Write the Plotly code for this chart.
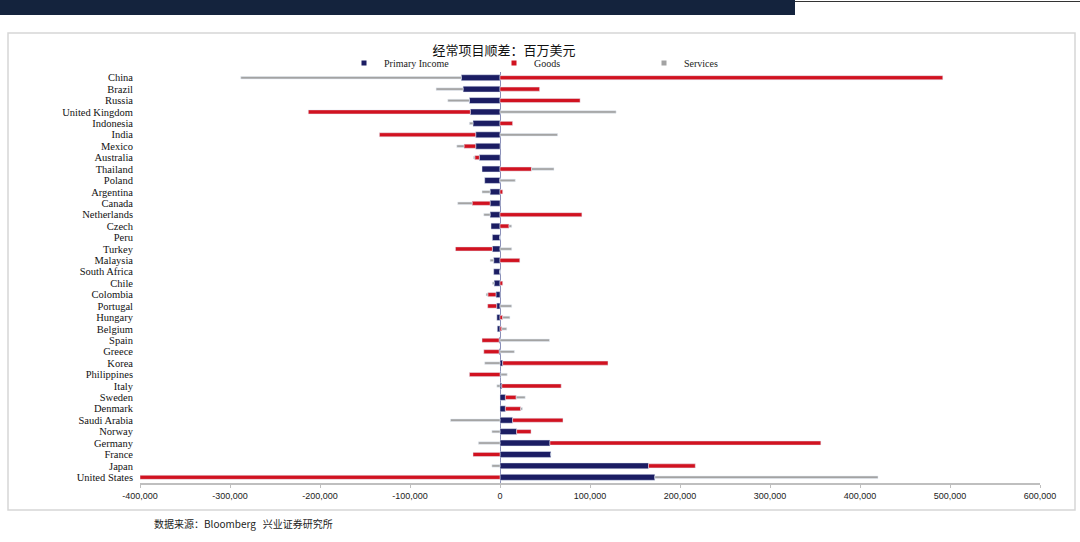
import plotly.graph_objects as go

countries = ["China", "Brazil", "Russia", "United Kingdom", "Indonesia", "India", "Mexico",
             "Australia", "Thailand", "Poland", "Argentina", "Canada", "Netherlands", "Czech",
             "Peru", "Turkey", "Malaysia", "South Africa", "Chile", "Colombia", "Portugal",
             "Hungary", "Belgium", "Spain", "Greece", "Korea", "Philippines", "Italy", "Sweden",
             "Denmark", "Saudi Arabia", "Norway", "Germany", "France", "Japan", "United States"]

primary_income = [-43000, -41000, -34000, -33000, -30000, -27000, -27000,
                  -23000, -20000, -17000, -11000, -11000, -11000, -10000,
                  -8500, -8500, -7000, -7000, -6500, -4500, -3700,
                  -3500, -3000, -1000, -1000, 3000, 1000, 2000, 6000,
                  6000, 14000, 18500, 55500, 56500, 165000, 172000]

goods = [492000, 44000, 89000, -180000, 14000, -107000, -13000,
         -5000, 35000, 0, 3000, -20000, 91000, 10000,
         0, -41000, 22000, 0, 3000, -9000, -10000,
         3000, 2000, -19000, -17000, 117000, -34000, 66000, 12000,
         17000, 56000, 16000, 301000, -30000, 52000, -400000]

services = [-245000, -30000, -24000, 129000, -4000, 64000, -8000,
            -1500, 25000, 17000, -9000, -16000, -7000, 3000,
            0, 13000, -4000, 0, -2000, -2000, 13000,
            8000, 5500, 55000, 16000, -17000, 7000, -3500, 10000,
            2000, -55000, -9000, -24000, 0, -9000, 248000]

series_names = ["Primary Income", "Goods", "Services"]
series_colors = ["#1b1d63", "#d11220", "#a3a3a3"]

tick_vals = [-400000, -300000, -200000, -100000, 0, 100000, 200000, 300000, 400000, 500000, 600000]
tick_text = ["-400,000", "-300,000", "-200,000", "-100,000", "0", "100,000", "200,000",
             "300,000", "400,000", "500,000", "600,000"]

fig = go.Figure()
for vals, name, color, w in zip([primary_income, goods, services], series_names, series_colors,
                                [0.52, 0.36, 0.22]):
    fig.add_trace(go.Bar(y=countries, x=vals, name=name, orientation="h",
                         marker=dict(color=color), width=w, showlegend=False))
for name, color in zip(series_names, series_colors):
    fig.add_trace(go.Scatter(x=[None], y=[None], mode="markers", name=name,
                             marker=dict(symbol="square", size=5, color=color)))

W, H = 1080, 542
L, R, T, B = 140, 40, 72, 59
pw, ph = W - L - R, H - T - B

def px(x):
    return (x - L) / pw

def py(y):
    return (H - B - y) / ph

shapes = [
    dict(type="rect", xref="paper", yref="paper", x0=px(0), x1=px(795), y0=py(15), y1=py(0),
         fillcolor="#14233d", line=dict(width=0), layer="below"),
    dict(type="line", xref="paper", yref="paper", x0=px(795), x1=px(1080), y0=py(1.5), y1=py(1.5),
         line=dict(color="#333333", width=1)),
    dict(type="rect", xref="paper", yref="paper", x0=px(8), x1=px(1075), y0=py(510), y1=py(33),
         line=dict(color="#d6d6d6", width=1.5), fillcolor="rgba(0,0,0,0)", layer="below"),
]

fig.update_layout(
    width=W, height=H,
    margin=dict(l=L, r=R, t=T, b=B),
    paper_bgcolor="white", plot_bgcolor="white",
    barmode="relative",
    bargap=0.3,
    title=dict(text="经常项目顺差：百万美元", x=px(560), xanchor="center", y=1 - 50 / H, yanchor="middle",
               font=dict(family="Noto Sans CJK SC", size=13, color="#111111")),
    legend=dict(orientation="h", x=px(344), xanchor="left", y=py(63), yanchor="middle",
                font=dict(family="Liberation Serif", size=10, color="#222222"),
                entrywidth=105, entrywidthmode="pixels", itemwidth=30,
                bgcolor="rgba(0,0,0,0)", tracegroupgap=0),
    xaxis=dict(range=[-400000, 600000], tickvals=tick_vals, ticktext=tick_text,
               showgrid=False, zeroline=True, zerolinecolor="#8a8fb8", zerolinewidth=1,
               showline=True, linecolor="#bfbfbf", linewidth=1.5,
               ticks="outside", ticklen=3, tickcolor="#bfbfbf",
               tickfont=dict(family="Liberation Sans", size=9, color="#222222")),
    yaxis=dict(autorange="reversed", showgrid=False, showline=False, ticks="",
               tickmode="array", tickvals=countries, ticktext=countries,
               tickfont=dict(family="Liberation Serif", size=10.5, color="#111111"),
               ticklabelstandoff=6),
    shapes=shapes,
    annotations=[
        dict(text="数据来源：Bloomberg   兴业证券研究所", xref="paper", yref="paper",
             x=px(152), y=py(523), xanchor="left", yanchor="middle", showarrow=False,
             font=dict(family="Noto Sans CJK SC", size=10, color="#222222")),
    ],
)

fig.write_html("out.html", config={"displayModeBar": False},
               post_script="document.body.style.margin='0';")
